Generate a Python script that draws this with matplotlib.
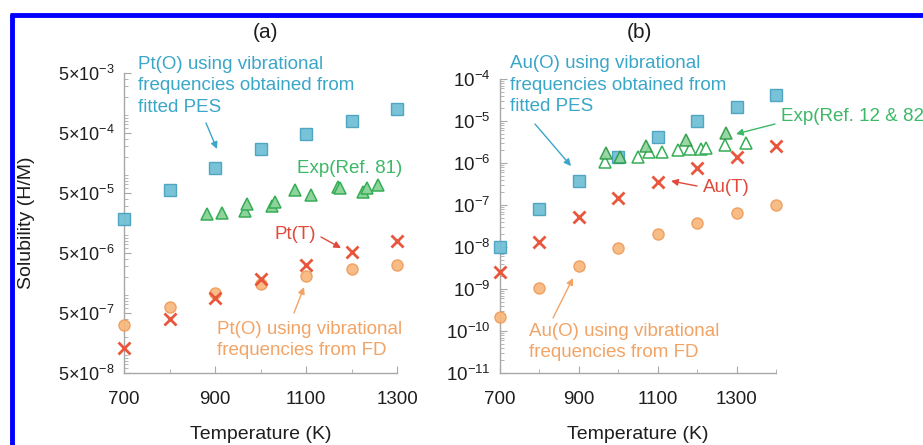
import matplotlib
matplotlib.use("Agg")
import matplotlib.pyplot as plt
import matplotlib.ticker as mticker
from matplotlib.lines import Line2D
from matplotlib.patches import FancyArrowPatch

plt.rcParams['font.family'] = ['Liberation Sans', 'DejaVu Sans']
plt.rcParams['mathtext.fontset'] = 'custom'
plt.rcParams['mathtext.rm'] = 'Liberation Sans'
plt.rcParams['mathtext.it'] = 'Liberation Sans:italic'
plt.rcParams['mathtext.bf'] = 'Liberation Sans:bold'

# ---------------- data: panel (a) Pt ----------------
pt_T = [700, 800, 900, 1000, 1100, 1200, 1300]
pt_pes = [1.85e-5, 5.6e-5, 1.3e-4, 2.7e-4, 4.8e-4, 8.0e-4, 1.26e-3]
pt_T_site = [1.3e-7, 4.0e-7, 8.9e-7, 1.86e-6, 3.2e-6, 5.2e-6, 7.9e-6]
pt_fd = [3.2e-7, 6.3e-7, 1.07e-6, 1.5e-6, 2.1e-6, 2.7e-6, 3.2e-6]
pt_exp_T = [883, 915, 966, 971, 1025, 1032, 1076, 1111, 1170, 1175, 1225, 1233, 1258]
pt_exp = [2.2e-5, 2.3e-5, 2.5e-5, 3.3e-5, 3.0e-5, 3.5e-5, 5.7e-5, 4.7e-5,
          6.2e-5, 6.0e-5, 5.1e-5, 6.1e-5, 6.9e-5]

# ---------------- data: panel (b) Au ----------------
au_T = [700, 800, 900, 1000, 1100, 1200, 1300, 1400]
au_pes = [1.0e-8, 8.0e-8, 3.8e-7, 1.4e-6, 4.1e-6, 1.0e-5, 2.1e-5, 4.1e-5]
au_T_site = [2.5e-9, 1.3e-8, 5.1e-8, 1.5e-7, 3.5e-7, 7.5e-7, 1.4e-6, 2.5e-6]
au_fd = [2.1e-10, 1.05e-9, 3.6e-9, 9.6e-9, 2.0e-8, 3.8e-8, 6.6e-8, 9.8e-8]
au_exp1_T = [968, 1005, 1070, 1173, 1272]
au_exp1 = [1.7e-6, 1.38e-6, 2.5e-6, 3.5e-6, 5.1e-6]
au_exp2_T = [966, 1049, 1078, 1110, 1151, 1181, 1211, 1222, 1270, 1325]
au_exp2 = [1.07e-6, 1.38e-6, 1.8e-6, 1.78e-6, 2.05e-6, 2.1e-6, 2.1e-6, 2.3e-6, 2.7e-6, 3.0e-6]

# tick labels
a_yticks = [5e-8, 5e-7, 5e-6, 5e-5, 5e-4, 5e-3]
a_ylabels = [r'$5{\times}10^{-8}$', r'$5{\times}10^{-7}$', r'$5{\times}10^{-6}$',
             r'$5{\times}10^{-5}$', r'$5{\times}10^{-4}$', r'$5{\times}10^{-3}$']
b_yticks = [1e-11, 1e-10, 1e-9, 1e-8, 1e-7, 1e-6, 1e-5, 1e-4]
b_ylabels = [r'$10^{-11}$', r'$10^{-10}$', r'$10^{-9}$', r'$10^{-8}$',
             r'$10^{-7}$', r'$10^{-6}$', r'$10^{-5}$', r'$10^{-4}$']
x_major = [700, 900, 1100, 1300]

# ---------------- styles ----------------
BLUE_F, BLUE_E = '#72c0d6', '#4aa3c0'
RED = '#e8563c'
ORANGE_F, ORANGE_E = '#f8b57a', '#ee9a58'
GREEN_E, GREEN_F = '#35ad55', '#8fd39c'
BLUE_T = '#3aa6c8'
GREEN_T = '#3cb866'
RED_T = '#e04a3a'
ORANGE_T = '#f2a466'
AX_C = '#a8a8a8'
TXT = '#1e1e1e'

W, H = 923, 445
fig = plt.figure(figsize=(W / 100, H / 100), dpi=100)

def fpos(x, y):
    return (x / W, 1 - y / H)

ax_a = fig.add_axes([124 / W, 1 - 373 / H, (397 - 124) / W, (373 - 73) / H])
ax_b = fig.add_axes([500 / W, 1 - 373 / H, (776 - 500) / W, (373 - 79) / H])

def style(ax):
    for s in ['top', 'right']:
        ax.spines[s].set_visible(False)
    for s in ['left', 'bottom']:
        ax.spines[s].set_color(AX_C)
        ax.spines[s].set_linewidth(1.0)
    ax.tick_params(which='both', direction='in', color=AX_C, labelcolor=TXT,
                   labelsize=13.5)
    ax.tick_params(which='major', length=5, width=0.8)
    ax.tick_params(which='minor', length=3, width=0.6)
    ax.tick_params(axis='x', pad=13)
    ax.tick_params(axis='y', pad=7)
    ax.set_xticks(x_major)
    ax.xaxis.set_minor_locator(mticker.MultipleLocator(100))
    ax.set_xlabel('Temperature (K)', fontsize=14, color=TXT, labelpad=13)

def draw(ax, T, pes, tsite, fd):
    ax.plot(T, pes, ls='none', marker='s', ms=8, mfc=BLUE_F, mec=BLUE_E, mew=1.0,
            alpha=0.95, clip_on=False, zorder=4)
    ax.plot(T, fd, ls='none', marker='o', ms=8, mfc=ORANGE_F, mec=ORANGE_E, mew=1.0,
            alpha=0.9, clip_on=False, zorder=4)
    ax.plot(T, tsite, ls='none', marker='x', ms=8, mec=RED, mew=2.0,
            clip_on=False, zorder=5)

# ---------- panel (a) ----------
ax = ax_a
ax.set_yscale('log')
draw(ax, pt_T, pt_pes, pt_T_site, pt_fd)
ax.plot(pt_exp_T, pt_exp, ls='none', marker='^', ms=8, mfc=GREEN_F, mec=GREEN_E,
        mew=1.1, zorder=4)
ax.set_xlim(700, 1300)
ax.set_ylim(5e-8, 5e-3)
ax.set_yticks(a_yticks)
ax.set_yticklabels(a_ylabels)
ax.yaxis.set_minor_locator(mticker.LogLocator(base=10, subs=range(1, 10), numticks=50))
ax.yaxis.set_minor_formatter(mticker.NullFormatter())
style(ax)
ax.tick_params(axis='y', labelsize=13)
ax.set_ylabel('Solubility (H/M)', fontsize=14, color=TXT, labelpad=16)

# ---------- panel (b) ----------
ax = ax_b
ax.set_yscale('log')
draw(ax, au_T, au_pes, au_T_site, au_fd)
ax.plot(au_exp2_T, au_exp2, ls='none', marker='^', ms=8, mfc='white', mec=GREEN_E,
        mew=1.1, zorder=4)
ax.plot(au_exp1_T, au_exp1, ls='none', marker='^', ms=8, mfc=GREEN_F, mec='#2a9a45',
        mew=1.1, zorder=4, alpha=0.9)
ax.set_xlim(700, 1400)
ax.set_ylim(1e-11, 1e-4)
ax.set_yticks(b_yticks)
ax.set_yticklabels(b_ylabels)
ax.yaxis.set_minor_locator(mticker.LogLocator(base=10, subs=range(2, 10), numticks=50))
ax.yaxis.set_minor_formatter(mticker.NullFormatter())
style(ax)
ax.set_xticks(x_major)

# panel titles
fig.text(*fpos(265, 32), '(a)', fontsize=15, color=TXT, ha='center', va='center')
fig.text(*fpos(639, 32), '(b)', fontsize=15, color=TXT, ha='center', va='center')

# ---------- annotations ----------
FS = 13.5
def note(text, xy_text, xy_arrow_from, xy_arrow_to, color, ha='left', va='center'):
    fig.text(*fpos(*xy_text), text, color=color, fontsize=FS, ha=ha, va=va,
             linespacing=1.38)
    if xy_arrow_from is not None:
        fig.add_artist(FancyArrowPatch(
            fpos(*xy_arrow_from), fpos(*xy_arrow_to), transform=fig.transFigure,
            arrowstyle='-|>,head_length=4,head_width=2', color=color, lw=1.0,
            mutation_scale=1, shrinkA=0, shrinkB=0))

note('Pt(O) using vibrational\nfrequencies obtained from\nfitted PES', (138, 86),
     (206, 123), (217, 149), BLUE_T)
note('Exp(Ref. 81)', (297, 168), None, None, GREEN_T)
note('Pt(T)', (275, 235), (321, 237), (341, 248), RED_T)
note('Pt(O) using vibrational\nfrequencies from FD', (217, 340),
     (294, 313), (304, 287), ORANGE_T)

note('Au(O) using vibrational\nfrequencies obtained from\nfitted PES', (510, 85),
     (535, 124), (571, 166), BLUE_T)
note('Exp(Ref. 12 & 82)', (781, 117), (775, 124), (736, 134), GREEN_T)
note('Au(T)', (703, 187), (697, 186), (671, 181), RED_T)
note('Au(O) using vibrational\nfrequencies from FD', (529, 342),
     (553, 318), (573, 278), ORANGE_T)

# ---------- blue frame ----------
fig.add_artist(Line2D([10 / W, 1.0], [1 - 15 / H] * 2, transform=fig.transFigure,
                      color='#0000ff', lw=3.5, solid_capstyle='butt'))
fig.add_artist(Line2D([12 / W] * 2, [0, 1 - 14 / H], transform=fig.transFigure,
                      color='#0000ff', lw=3.5, solid_capstyle='butt'))

fig.savefig('out.png', dpi=100)
